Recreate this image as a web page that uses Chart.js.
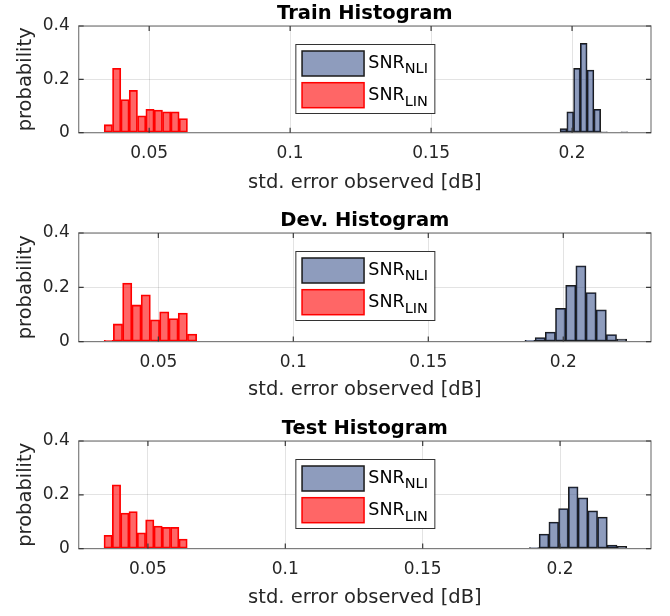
<!DOCTYPE html>
<html>
<head>
<meta charset="utf-8">
<script src="https://cdn.jsdelivr.net/npm/chart.js@4.4.1/dist/chart.umd.min.js"></script>
<style>
  html, body { margin: 0; padding: 0; background: #ffffff; }
  #wrap { position: relative; width: 670px; height: 616px; overflow: hidden; }
  canvas { position: absolute; left: 0; }
</style>
</head>
<body>
<div id="wrap">
  <canvas id="c0" width="670" height="200" style="top:0px"></canvas>
  <canvas id="c1" width="670" height="200" style="top:207px"></canvas>
  <canvas id="c2" width="670" height="200" style="top:415px"></canvas>
</div>
<script>
// ---- text ----
const panelTitles = ['Train Histogram', 'Dev. Histogram', 'Test Histogram'];
const xAxisLabel = 'std. error observed [dB]';
const yAxisLabel = 'probability';
const seriesNames = ['SNR', 'SNR'];
const seriesSubscripts = ['NLI', 'LIN'];

// ---- ticks ----
const xTickValues = [0.05, 0.1, 0.15, 0.2];
const xTickLabels = ['0.05', '0.1', '0.15', '0.2'];
const yTickValues = [0, 0.2, 0.4];
const yTickLabels = ['0', '0.2', '0.4'];
const xLimits = [[0.025, 0.228], [0.0205, 0.2325], [0.0248, 0.2331]];
const yLimits = [0, 0.4];

// ---- histogram bins (bin centres, probability per bin) ----
const trainLinCenters = [0.03552, 0.03847, 0.04143, 0.04438, 0.04734, 0.05029, 0.05325, 0.0562, 0.05916, 0.06211];
const trainLinProb    = [0.030, 0.241, 0.124, 0.159, 0.063, 0.088, 0.085, 0.078, 0.078, 0.053];
const trainNliCenters = [0.19694, 0.19934, 0.20174, 0.20414, 0.20654, 0.20894, 0.21134, 0.21374, 0.21614, 0.21854];
const trainNliProb    = [0.015, 0.078, 0.241, 0.335, 0.235, 0.088, 0.003, 0, 0, 0.003];

const devLinCenters = [0.03162, 0.03505, 0.03848, 0.04191, 0.04534, 0.04877, 0.0522, 0.05563, 0.05906, 0.06249];
const devLinProb    = [0.005, 0.065, 0.216, 0.135, 0.172, 0.080, 0.110, 0.085, 0.105, 0.028];
const devNliCenters = [0.18769, 0.19146, 0.19523, 0.199, 0.20277, 0.20654, 0.21031, 0.21408, 0.21785, 0.22162];
const devNliProb    = [0.005, 0.015, 0.035, 0.123, 0.207, 0.279, 0.181, 0.117, 0.026, 0.009];

const testLinCenters = [0.03552, 0.03855, 0.04158, 0.04461, 0.04764, 0.05067, 0.0537, 0.05673, 0.05976, 0.06279];
const testLinProb    = [0.049, 0.237, 0.132, 0.138, 0.059, 0.107, 0.084, 0.079, 0.079, 0.035];
const testNliCenters = [0.1906, 0.19415, 0.1977, 0.20124, 0.20479, 0.20833, 0.21188, 0.21543, 0.21897, 0.22252];
const testNliProb    = [0.004, 0.054, 0.099, 0.149, 0.230, 0.189, 0.140, 0.117, 0.013, 0.008];

const linCenters = [trainLinCenters, devLinCenters, testLinCenters];
const linProb    = [trainLinProb, devLinProb, testLinProb];
const nliCenters = [trainNliCenters, devNliCenters, testNliCenters];
const nliProb    = [trainNliProb, devNliProb, testNliProb];

// ---- style / layout ----
const FONT = 'DejaVu Sans';
const AXIS_COLOR = '#262626';
const FRAME_COLOR = '#7d7d7d';
const GRID_COLOR = 'rgba(0,0,0,0.11)';
const NLI_FILL = 'rgba(50,75,135,0.55)';
const NLI_EDGE = '#1a1a1a';
const LIN_FILL = 'rgba(255,0,0,0.6)';
const LIN_EDGE = '#ff0000';
const AREA_TOP = 26;
const AXIS_LEFT = 78.7;
const boxHeights = [106.7, 108.6, 107.6];
const CANVAS_H = 200;

Chart.defaults.font.family = FONT;

function toPoints(xs, ys) {
  return xs.map((x, i) => ({ x: x, y: ys[i] }));
}

// axes box, inward tick marks and a north-centred legend
const boxAndLegend = {
  id: 'boxAndLegend',
  afterDatasetsDraw(chart) {
    const ctx = chart.ctx;
    const a = chart.chartArea;
    const xs = chart.scales.x, ys = chart.scales.y;
    ctx.save();
    ctx.strokeStyle = FRAME_COLOR;
    ctx.lineWidth = 1.2;
    ctx.strokeRect(a.left, a.top, a.right - a.left, a.bottom - a.top);
    ctx.strokeStyle = '#3a3a3a';
    ctx.lineWidth = 1.2;
    ctx.beginPath();
    xTickValues.forEach(v => {
      const px = xs.getPixelForValue(v);
      ctx.moveTo(px, a.bottom); ctx.lineTo(px, a.bottom - 5);
      ctx.moveTo(px, a.top); ctx.lineTo(px, a.top + 5);
    });
    yTickValues.forEach(v => {
      const py = ys.getPixelForValue(v);
      ctx.moveTo(a.left, py); ctx.lineTo(a.left + 5, py);
      ctx.moveTo(a.right, py); ctx.lineTo(a.right - 5, py);
    });
    ctx.stroke();
    ctx.restore();
  },
  afterDraw(chart) {
    const ctx = chart.ctx;
    const a = chart.chartArea;
    const w = 139, h = 69;
    const lx = (a.left + a.right) / 2 - w / 2;
    const ly = a.top + 18;
    ctx.save();
    ctx.fillStyle = '#ffffff';
    ctx.fillRect(lx, ly, w, h);
    ctx.strokeStyle = '#333333';
    ctx.lineWidth = 1;
    ctx.strokeRect(lx + 0.5, ly + 0.5, w, h);
    const rows = [7, 38.7];
    const subDrop = [5, 6.5];
    chart.data.datasets.forEach((ds, i) => {
      const sy = ly + rows[i];
      ctx.fillStyle = ds.backgroundColor;
      ctx.fillRect(lx + 6.7, sy, 62, 25);
      ctx.strokeStyle = ds.borderColor;
      ctx.lineWidth = 1.5;
      ctx.strokeRect(lx + 6.7, sy, 62, 25);
      const base = sy + 17;
      ctx.fillStyle = '#000000';
      ctx.textBaseline = 'alphabetic';
      ctx.textAlign = 'left';
      ctx.font = '17.5px "' + FONT + '"';
      ctx.fillText(seriesNames[i], lx + 73, base);
      const mw = ctx.measureText(seriesNames[i]).width;
      ctx.font = '14.5px "' + FONT + '"';
      ctx.fillText(seriesSubscripts[i], lx + 73 + mw, base + subDrop[i]);
    });
    ctx.restore();
  }
};

function makeChart(canvasId, k) {
  const setXTicks = s => { s.ticks = xTickValues.map(v => ({ value: v })); };
  // each histogram sits on its own (identical) x scale so that its bar
  // width follows its own bin spacing; bars are centred on the bin centre
  const barStyle = {
    grouped: false,
    borderWidth: 1.1,
    borderSkipped: false,
    barPercentage: 1,
    categoryPercentage: 1
  };
  return new Chart(document.getElementById(canvasId), {
    type: 'bar',
    data: {
      datasets: [
        Object.assign({
          label: seriesNames[0] + '_' + seriesSubscripts[0],
          data: toPoints(nliCenters[k], nliProb[k]),
          xAxisID: 'xn',
          backgroundColor: NLI_FILL,
          borderColor: NLI_EDGE
        }, barStyle),
        Object.assign({
          label: seriesNames[1] + '_' + seriesSubscripts[1],
          data: toPoints(linCenters[k], linProb[k]),
          xAxisID: 'x',
          backgroundColor: LIN_FILL,
          borderColor: LIN_EDGE
        }, barStyle)
      ]
    },
    options: {
      responsive: false,
      animation: false,
      devicePixelRatio: 1,
      layout: { padding: { left: 0, right: 19, top: 0, bottom: 0 } },
      plugins: {
        legend: { display: false },
        tooltip: { enabled: false },
        title: {
          display: true,
          text: panelTitles[k],
          fullSize: false,
          color: '#000000',
          font: { family: FONT, size: 19.5, weight: 'bold', lineHeight: 1.2 },
          padding: { top: 2, bottom: AREA_TOP - 2 - 19.5 * 1.2 }
        }
      },
      scales: {
        x: {
          type: 'linear',
          position: 'bottom',
          min: xLimits[k][0],
          max: xLimits[k][1],
          offset: false,
          afterBuildTicks: setXTicks,
          afterFit: s => { s.height = CANVAS_H - AREA_TOP - boxHeights[k]; },
          ticks: {
            callback: (v, i) => xTickLabels[i],
            color: AXIS_COLOR,
            font: { family: FONT, size: 17 },
            padding: 11,
            maxRotation: 0,
            autoSkip: false
          },
          grid: { color: GRID_COLOR, drawTicks: false, offset: false, lineWidth: 1 },
          border: { display: false },
          title: {
            display: true,
            text: xAxisLabel,
            color: AXIS_COLOR,
            font: { family: FONT, size: 19.5, lineHeight: 1.2 },
            padding: { top: 0, bottom: 5 }
          }
        },
        xn: {
          type: 'linear',
          position: 'bottom',
          display: false,
          min: xLimits[k][0],
          max: xLimits[k][1],
          offset: false,
          afterBuildTicks: setXTicks
        },
        y: {
          type: 'linear',
          position: 'left',
          stacked: false,
          min: yLimits[0],
          max: yLimits[1],
          afterBuildTicks: s => { s.ticks = yTickValues.map(v => ({ value: v })); },
          afterFit: s => { s.width = AXIS_LEFT; },
          ticks: {
            callback: (v, i) => yTickLabels[i],
            color: AXIS_COLOR,
            font: { family: FONT, size: 17 },
            padding: 9
          },
          grid: { color: GRID_COLOR, drawTicks: false, lineWidth: 1 },
          border: { display: false },
          title: {
            display: true,
            text: yAxisLabel,
            color: AXIS_COLOR,
            font: { family: FONT, size: 19.5, lineHeight: 1.2 },
            padding: { top: 14.3, bottom: 0 }
          }
        }
      }
    },
    plugins: [boxAndLegend]
  });
}

makeChart('c0', 0);
makeChart('c1', 1);
makeChart('c2', 2);
</script>
</body>
</html>
